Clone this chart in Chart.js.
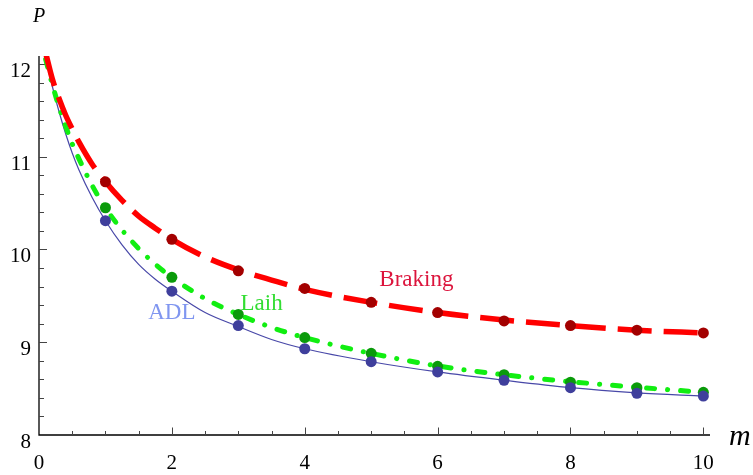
<!DOCTYPE html>
<html>
<head>
<meta charset="utf-8">
<script src="https://cdn.jsdelivr.net/npm/chart.js@4.4.1/dist/chart.umd.min.js"></script>
<style>
  body { margin: 0; background: #fff; }
  canvas { display: block; }
</style>
</head>
<body>
<canvas id="chart" width="753" height="475"></canvas>
<script>
// fitted curves
const curveM = [0.1, 0.2, 0.3, 0.4, 0.5, 0.6, 0.8, 1, 1.25, 1.5, 1.75, 2, 2.5, 3, 3.5, 4, 5, 6, 7, 8, 9, 10];
const brakingCurve = [12.12, 11.84, 11.63, 11.45, 11.3, 11.16, 10.92, 10.73, 10.53, 10.36, 10.23, 10.11, 9.92, 9.78, 9.67, 9.57, 9.43, 9.32, 9.24, 9.18, 9.13, 9.1];
const laihCurve = [12.05, 11.78, 11.54, 11.33, 11.14, 10.98, 10.69, 10.45, 10.21, 10.01, 9.84, 9.7, 9.47, 9.3, 9.16, 9.05, 8.88, 8.745, 8.65, 8.575, 8.515, 8.46];
const adlCurve = [12.05, 11.76, 11.49, 11.25, 11.04, 10.86, 10.56, 10.31, 10.05, 9.84, 9.68, 9.55, 9.32, 9.17, 9.03, 8.93, 8.79, 8.68, 8.59, 8.51, 8.455, 8.42];

// computed points
const dotM = [1, 2, 3, 4, 5, 6, 7, 8, 9, 10];
const brakingDots = [10.73, 10.11, 9.77, 9.58, 9.43, 9.32, 9.23, 9.18, 9.13, 9.1];
const laihDots = [10.45, 9.7, 9.3, 9.05, 8.88, 8.74, 8.65, 8.57, 8.51, 8.46];
const adlDots = [10.31, 9.55, 9.18, 8.93, 8.79, 8.68, 8.59, 8.51, 8.45, 8.42];

const xTickLabels = ["0", "2", "4", "6", "8", "10"];
const yTickLabels = ["8", "9", "10", "11", "12"];

const toPoints = (xs, ys) => xs.map((x, i) => ({ x: x, y: ys[i] }));

const SERIF = '"Liberation Serif", "DejaVu Serif", serif';

const axesPlugin = {
  id: "axesInside",
  beforeDatasetsDraw(chart) {
    const ctx = chart.ctx;
    const xs = chart.scales.x;
    const ys = chart.scales.y;
    const left = xs.getPixelForValue(0);
    const bottom = ys.getPixelForValue(8);
    ctx.save();
    ctx.strokeStyle = "#000";
    ctx.lineWidth = 1.3;
    ctx.beginPath();
    ctx.moveTo(left, chart.chartArea.top);
    ctx.lineTo(left, bottom);
    ctx.lineTo(chart.chartArea.right, bottom);
    ctx.stroke();

    // x ticks, pointing up
    ctx.lineWidth = 1;
    ctx.strokeStyle = "#444";
    for (let k = 1; k <= 20; k++) {
      const v = k * 0.5;
      const px = Math.round(xs.getPixelForValue(v)) + 0.5;
      const len = k % 4 === 0 ? 7.5 : 4;
      ctx.beginPath();
      ctx.moveTo(px, bottom);
      ctx.lineTo(px, bottom - len);
      ctx.stroke();
    }
    // y ticks, pointing right
    for (let k = 1; k <= 20; k++) {
      const v = 8 + k * 0.2;
      const py = Math.round(ys.getPixelForValue(v)) + 0.5;
      const len = k % 5 === 0 ? 8 : 5;
      ctx.beginPath();
      ctx.moveTo(left, py);
      ctx.lineTo(left + len, py);
      ctx.stroke();
    }

    ctx.fillStyle = "#000";
    ctx.font = "21px " + SERIF;
    ctx.textAlign = "center";
    ctx.textBaseline = "alphabetic";
    xTickLabels.forEach((t) => {
      ctx.fillText(t, xs.getPixelForValue(Number(t)), bottom + 34);
    });
    ctx.textAlign = "right";
    yTickLabels.forEach((t) => {
      ctx.fillText(t, left - 8, ys.getPixelForValue(Number(t)) + 13);
    });

    ctx.textAlign = "left";
    ctx.font = "italic 20px " + SERIF;
    ctx.fillText("P", left - 6, 22);
    ctx.font = "italic 30px " + SERIF;
    ctx.fillText("m", 729, 445);
    ctx.restore();
  },
  afterDatasetsDraw(chart) {
    const ctx = chart.ctx;
    const xs = chart.scales.x;
    const ys = chart.scales.y;
    ctx.save();
    ctx.font = "23px " + SERIF;
    ctx.textAlign = "center";
    ctx.textBaseline = "alphabetic";
    ctx.fillStyle = "#dc143c";
    ctx.fillText("Braking", xs.getPixelForValue(5.68), ys.getPixelForValue(9.61));
    ctx.fillStyle = "#33dd33";
    ctx.fillText("Laih", xs.getPixelForValue(3.35), ys.getPixelForValue(9.35));
    ctx.fillStyle = "rgb(128,150,240)";
    ctx.fillText("ADL", xs.getPixelForValue(2.0), ys.getPixelForValue(9.25));
    ctx.restore();
  },
};

new Chart(document.getElementById("chart"), {
  type: "scatter",
  data: {
    datasets: [
      {
        label: "ADL points",
        data: toPoints(dotM, adlDots),
        pointRadius: 5.5,
        pointBackgroundColor: "#3f3f9c",
        pointBorderWidth: 0,
        showLine: false,
        order: 0,
      },
      {
        label: "Laih points",
        data: toPoints(dotM, laihDots),
        pointRadius: 5.5,
        pointBackgroundColor: "#0a9a0a",
        pointBorderWidth: 0,
        showLine: false,
        order: 1,
      },
      {
        label: "Braking points",
        data: toPoints(dotM, brakingDots),
        pointRadius: 5.5,
        pointBackgroundColor: "#a30000",
        pointBorderWidth: 0,
        showLine: false,
        order: 2,
      },
      {
        label: "Braking",
        data: toPoints(curveM, brakingCurve),
        showLine: true,
        borderColor: "#ff0000",
        borderWidth: 5.5,
        borderDash: [34, 12],
        pointRadius: 0,
        cubicInterpolationMode: "monotone",
        order: 3,
      },
      {
        label: "Laih",
        data: toPoints(curveM, laihCurve),
        showLine: true,
        borderColor: "#11ee11",
        borderWidth: 5,
        borderDash: [8, 13, 0.1, 13],
        borderCapStyle: "round",
        pointRadius: 0,
        cubicInterpolationMode: "monotone",
        order: 4,
      },
      {
        label: "ADL",
        data: toPoints(curveM, adlCurve),
        showLine: true,
        borderColor: "#4848a8",
        borderWidth: 1.2,
        pointRadius: 0,
        cubicInterpolationMode: "monotone",
        order: 5,
      },
    ],
  },
  options: {
    responsive: false,
    animation: false,
    layout: { padding: { left: 39, right: 43, top: 56, bottom: 40 } },
    plugins: { legend: { display: false }, tooltip: { enabled: false } },
    scales: {
      x: { type: "linear", min: 0, max: 10.1, display: false },
      y: { type: "linear", min: 8, max: 12.086, display: false },
    },
  },
  plugins: [axesPlugin],
});
</script>
</body>
</html>
